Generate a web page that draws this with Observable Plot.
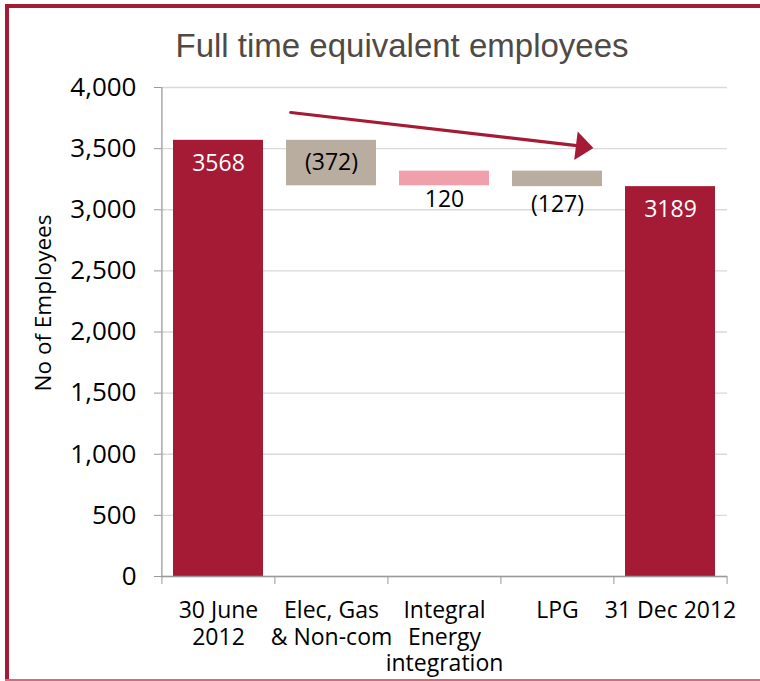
<!DOCTYPE html>
<html>
<head>
<meta charset="utf-8">
<script src="https://cdn.jsdelivr.net/npm/d3@7"></script>
<script src="https://cdn.jsdelivr.net/npm/@observablehq/plot@0.6"></script>
<style>
  html, body { margin: 0; padding: 0; background: #fff; }
  #wrap { position: relative; width: 760px; height: 681px; overflow: hidden; background: #fff; }
  #title { position: absolute; left: 0; width: 804px; top: 29px; text-align: center;
           font-family: "Liberation Sans Narrow", "Liberation Sans", sans-serif; font-size: 33px; line-height: 33px; color: #504a45; }
  #ylabel { position: absolute; left: 42px; top: 303px; transform: translate(-50%, -50%) rotate(-90deg);
            white-space: nowrap; font-family: "Open Sans", sans-serif; font-size: 22.5px; color: #000; }
  .bl { position: absolute; background: #A51A35; }
  #chart { position: absolute; left: 0; top: 0; }
</style>
</head>
<body>
<div id="wrap">
  <div id="chart"></div>
  <div class="bl" style="left:5px;top:4px;width:4px;height:677px;"></div>
  <div class="bl" style="left:5px;top:4px;width:755px;height:4px;"></div>
  <div class="bl" style="left:5px;top:679px;width:755px;height:2px;background:#D46A7C;"></div>
  <div id="title">Full time equivalent employees</div>
  <div id="ylabel">No of Employees</div>
</div>
<script>
// ---- data ----
const categories = ["30 June\n2012", "Elec, Gas\n& Non-com", "Integral\nEnergy\nintegration", "LPG", "31 Dec 2012"];
const values = [3568, -372, 120, -127, 3189];
const kinds = ["total", "change", "change", "change", "total"];
const valueLabels = ["3568", "(372)", "120", "(127)", "3189"];
const yTicks = [0, 500, 1000, 1500, 2000, 2500, 3000, 3500, 4000];
// trend arrow annotation (from category/level to category/level)
const arrowCats = ["Elec, Gas\n& Non-com", "LPG"];
const arrowLevels = [3757, 3543];
const arrowHeadLevel = 3517;

const colors = { total: "#A51A35", down: "#B8AD9F", up: "#F0A0AA" };

// ---- build waterfall rows ----
let running = 0;
const rows = categories.map((c, i) => {
  let lo, hi, color;
  if (kinds[i] === "total") {
    lo = 0; hi = values[i]; running = values[i]; color = colors.total;
  } else {
    const start = running, end = running + values[i];
    lo = Math.min(start, end); hi = Math.max(start, end); running = end;
    color = values[i] < 0 ? colors.down : colors.up;
  }
  return { cat: c, lo, hi, mid: (lo + hi) / 2, color, label: valueLabels[i], kind: kinds[i], value: values[i] };
});

const W = 760, H = 681, mL = 161, mR = 33, mT = 87, mB = 105;
const step = (W - mL - mR) / categories.length;
const font = "Open Sans, sans-serif";
const axisGrey = "#9a9a9a";

// squat filled arrowhead symbol (points up before rotation)
const arrowHead = {
  draw(ctx, size) {
    const k = Math.sqrt(size / Math.PI);
    ctx.moveTo(0, -k);
    ctx.lineTo(1.3 * k, 0.6 * k);
    ctx.lineTo(-1.3 * k, 0.6 * k);
    ctx.closePath();
  }
};

const chart = Plot.plot({
  width: W, height: H,
  marginLeft: mL, marginRight: mR, marginTop: mT, marginBottom: mB,
  style: { fontFamily: font, background: "transparent", overflow: "visible" },
  x: { domain: categories, paddingInner: 0.2, paddingOuter: 0.1, label: null },
  y: { domain: [0, 4000], label: null },
  marks: [
    Plot.gridY(yTicks, { stroke: "#d9d9d9", strokeOpacity: 1, strokeWidth: 1.3 }),
    Plot.barY(rows, { x: "cat", y1: "lo", y2: "hi", fill: "color" }),
    // axis lines
    Plot.ruleY([0], { stroke: axisGrey, strokeWidth: 1.3 }),
    Plot.ruleX([categories[0]], { y1: 0, y2: 4000, dx: -step / 2, stroke: axisGrey, strokeWidth: 1.3 }),
    // y axis ticks + labels
    Plot.axisY({ ticks: yTicks, tickFormat: d3.format(","), tickSize: 7, tickPadding: 18, fontSize: 26, stroke: axisGrey, fill: "#000", label: null }),
    // x boundary ticks
    Plot.axisX({ tickSize: 8, tickFormat: () => "", dx: -step / 2, stroke: axisGrey, label: null }),
    Plot.axisX({ ticks: [categories[categories.length - 1]], tickSize: 8, tickFormat: () => "", dx: step / 2, stroke: axisGrey, label: null }),
    // x labels
    Plot.axisX({ tickSize: 0, tickPadding: 22, fontSize: 23, lineHeight: 1.17, fill: "#000", label: null }),
    // value labels
    Plot.text(rows.filter(d => d.kind === "total"), { x: "cat", y: "hi", text: "label", dy: 23, fill: "white", fontSize: 23 }),
    Plot.text(rows.filter(d => d.label === "(372)"), { x: "cat", y: "mid", text: "label", dy: 0, fill: "#000", fontSize: 23 }),
    Plot.text(rows.filter(d => d.label === "120"), { x: "cat", y: "lo", text: "label", dy: 14, fill: "#000", fontSize: 23 }),
    Plot.text(rows.filter(d => d.label === "(127)"), { x: "cat", y: "lo", text: "label", dy: 18, fill: "#000", fontSize: 23 }),
    // trend arrow
    Plot.arrow([{ x1: arrowCats[0], y1: arrowLevels[0], x2: arrowCats[1], y2: arrowLevels[1] }], {
      x1: "x1", y1: "y1", x2: "x2", y2: "y2", headLength: 0, insetStart: -41, insetEnd: -28,
      stroke: colors.total, strokeWidth: 3.2
    }),
    Plot.dot([{ x: arrowCats[1], y: arrowHeadLevel }], {
      x: "x", y: "y", symbol: arrowHead, r: 11, rotate: 97, dx: 25, fill: colors.total, stroke: "none"
    })
  ]
});
document.getElementById("chart").appendChild(chart);
</script>
</body>
</html>
